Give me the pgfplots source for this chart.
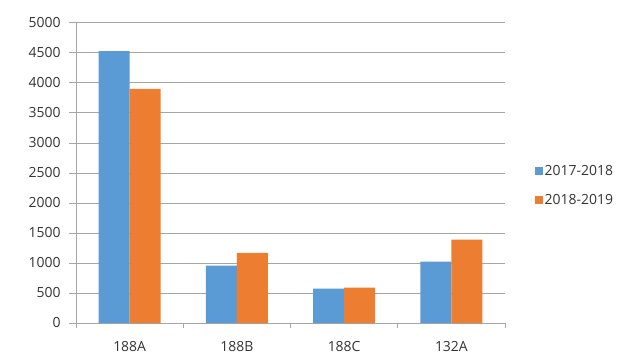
\documentclass[border=0pt]{standalone}
\usepackage{pgfplots}
\pgfplotsset{compat=1.18}
\usepackage{fontspec}
\setmainfont{Open Sans}
\definecolor{cblue}{HTML}{5B9BD5}
\definecolor{corange}{HTML}{ED7D31}
\definecolor{ctext}{HTML}{333333}
\definecolor{cgrid}{HTML}{A6A6A6}
\begin{document}
\begin{tikzpicture}[x=1bp,y=1bp]
\path[use as bounding box] (0,0) rectangle (633,360);
\begin{axis}[
  at={(76bp,37bp)}, anchor=south west,
  scale only axis, width=429bp, height=300bp,
  xmin=0, xmax=4, ymin=0, ymax=5000,
  ybar=0pt, bar width=31bp,
  /pgf/number format/assume math mode=true,
  font=\fontsize{14}{16}\selectfont,
  axis line style={draw=none},
  xtick pos=bottom, ytick pos=left,
  every axis plot/.append style={draw=none},
  ytick={0,500,...,5000},
  yticklabel style={ctext, xshift=-5bp},
  yticklabel={\pgfmathprintnumber[fixed,1000 sep={}]{\tick}},
  major tick length=7bp,
  tick align=outside,
  major y tick style={cgrid, line width=1bp},
  xtick={0.5,1.5,2.5,3.5},
  xticklabels={188A,188B,188C,132A},
  xticklabel style={ctext, yshift=-8bp},
  major x tick style={draw=none},
  minor xtick={1,2,3},
  minor tick length=5bp,
  minor x tick style={cgrid, line width=0.8bp},
  enlargelimits=false,
  clip=false,
  legend style={at={(1.07,0.458)}, anchor=west, draw=none, fill=none,
    font=\fontsize{14}{16}\selectfont\color{ctext}, row sep=14bp, inner sep=0pt,
    nodes={inner sep=1.5bp}},
  legend cell align=left,
  legend image code/.code={\fill[#1] (0bp,-4bp) rectangle (8bp,4bp);},
]
\pgfplotsinvokeforeach{500,1000,...,5000}{\draw[cgrid, line width=1bp] (axis cs:0,#1) -- (axis cs:4,#1);}
\draw[cgrid, line width=0.8bp] (axis cs:0,5000) -- (axis cs:0,0) -- (axis cs:4,0);
\draw[cgrid, line width=0.8bp] (axis cs:0,0) -- ++(0,-5bp);
\draw[cgrid, line width=0.8bp] (axis cs:4,0) -- ++(0,-5bp);
\addplot[fill=cblue] coordinates {(0.5,4530) (1.5,955) (2.5,575) (3.5,1025)};
\addplot[fill=corange] coordinates {(0.5,3900) (1.5,1170) (2.5,590) (3.5,1390)};
\legend{2017-2018,2018-2019}
\end{axis}
\end{tikzpicture}
\end{document}
